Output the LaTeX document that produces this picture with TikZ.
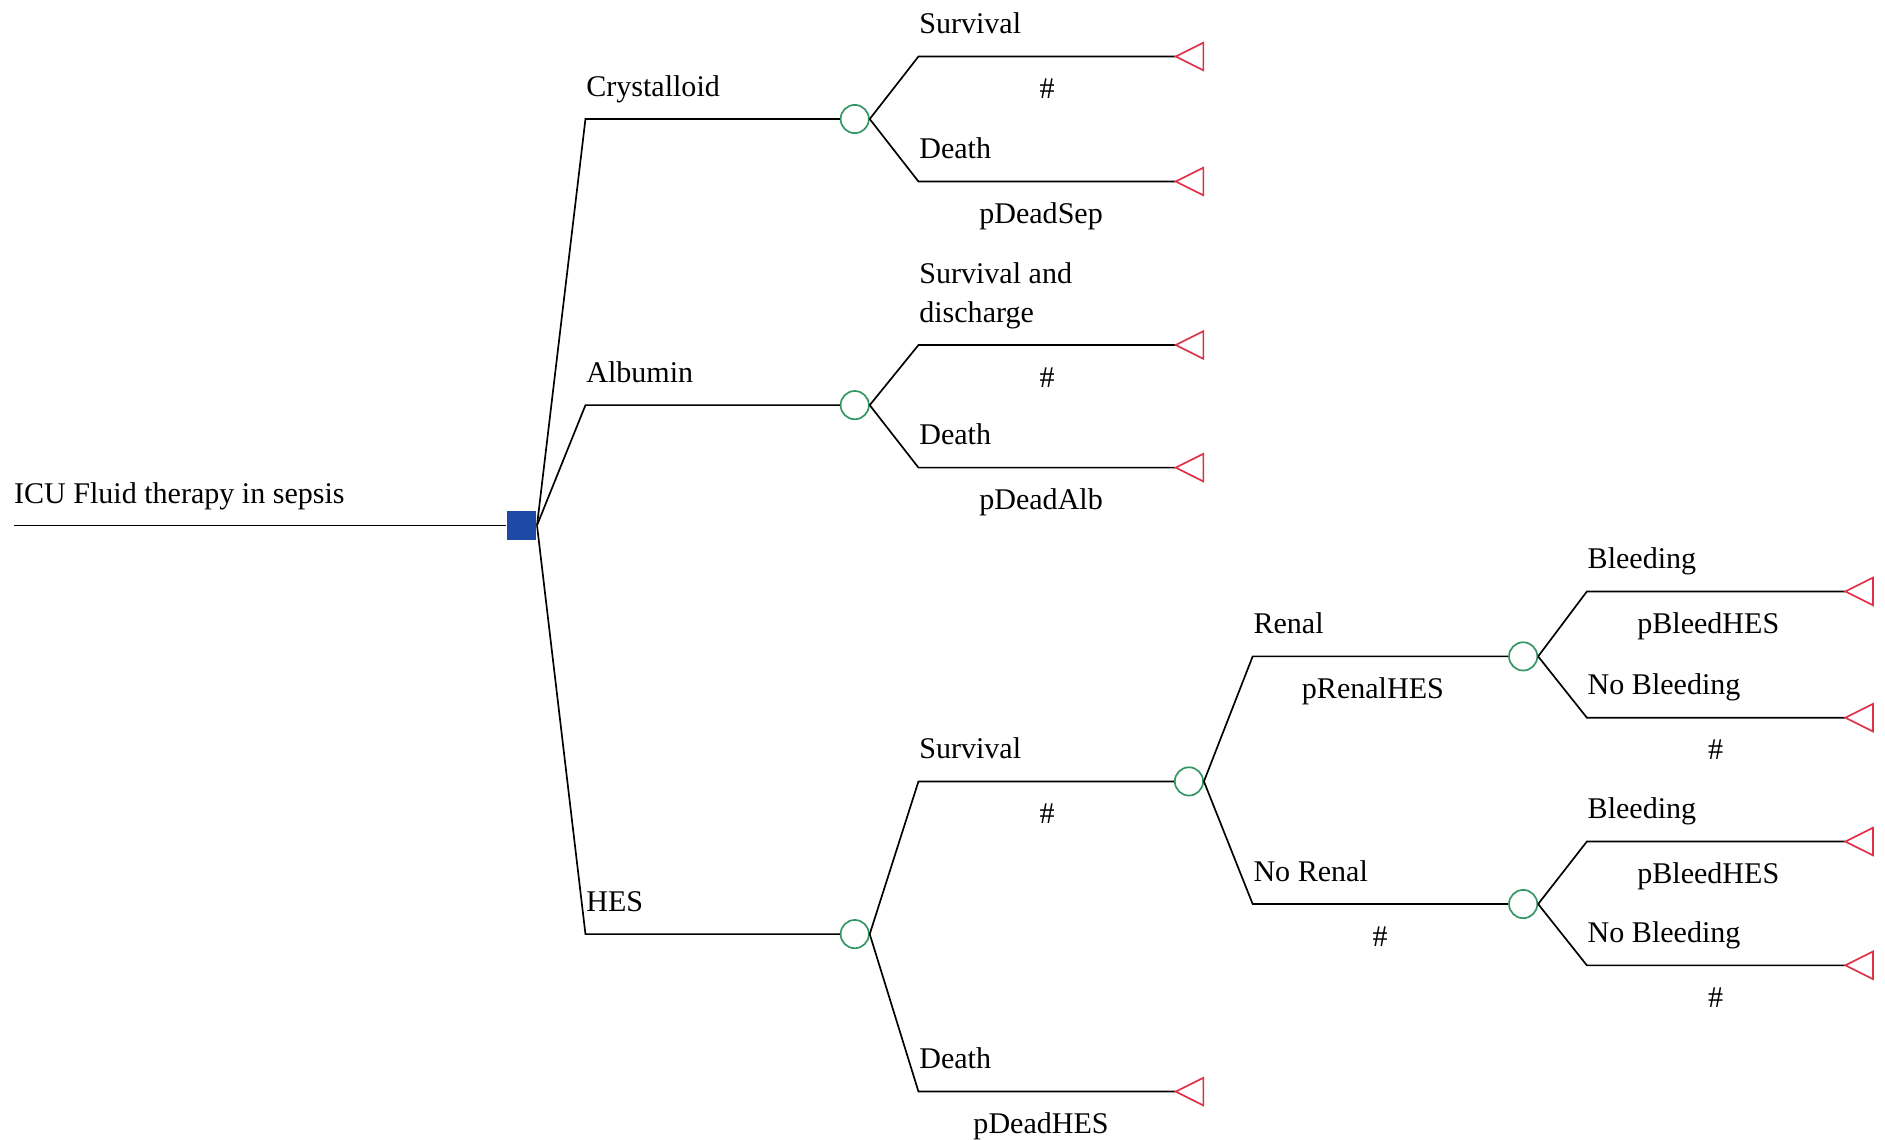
\documentclass[tikz,border=0pt]{standalone}
\usepackage{fontspec}
\setmainfont{Liberation Serif}
\definecolor{decblue}{RGB}{30,74,166}
\definecolor{chgreen}{RGB}{52,150,100}
\definecolor{termred}{RGB}{222,48,72}
\begin{document}
\begin{tikzpicture}[x=0.5pt,y=-0.5pt,line width=0.7pt,
  every node/.style={font=\fontsize{12.5}{16}\selectfont},
  decision/.style={rectangle,fill=decblue,minimum size=12pt,inner sep=0pt},
  chance/.style={circle,draw=chgreen,fill=white,minimum size=11.75pt,inner sep=0pt},
  branch/.style={draw=black},
  term/.style={draw=termred,line join=miter},
  toplabel/.style={anchor=base west,inner sep=0pt,align=left},
  botlabel/.style={anchor=base,inner sep=0pt}]
\useasboundingbox (0,0) rectangle (1568,948);

% root and decision node
\coordinate (root) at (12,437);
\node[decision] (d) at (434,437) {};
\draw[branch] (root) -- (d.west);
\node[toplabel] (lroot) at (11,419) {ICU Fluid therapy in sepsis};

% treatment arms
\node[chance] (c1) at (711,99) {};
\node[chance] (c2) at (711,337) {};
\node[chance] (c3) at (711,777) {};
\coordinate (k1) at (487,99);
\coordinate (k2) at (487,337);
\coordinate (k3) at (487,777);
\draw[branch] (d.east) -- (k1) -- (c1.west);
\draw[branch] (d.east) -- (k2) -- (c2.west);
\draw[branch] (d.east) -- (k3) -- (c3.west);
\node[toplabel] (l1) at (487,80.5) {Crystalloid};
\node[toplabel] (l2) at (487,318.5) {Albumin};
\node[toplabel] (l3) at (487,758.5) {HES};

% Crystalloid outcomes
\coordinate (e11) at (764,47);  \coordinate (t11) at (978,47);
\coordinate (e12) at (764,151); \coordinate (t12) at (978,151);
\draw[branch] (c1.east) -- (e11) -- (t11);
\draw[branch] (c1.east) -- (e12) -- (t12);
\node[toplabel] at (764,28) {Survival};
\node[botlabel] at (871,82) {\#};
\node[toplabel] at (764,132) {Death};
\node[botlabel] at (866,186) {pDeadSep};

% Albumin outcomes
\coordinate (e21) at (764,287); \coordinate (t21) at (978,287);
\coordinate (e22) at (764,389); \coordinate (t22) at (978,389);
\draw[branch] (c2.east) -- (e21) -- (t21);
\draw[branch] (c2.east) -- (e22) -- (t22);
\node[toplabel] at (764,268) {Survival and\\discharge};
\node[botlabel] at (871,322) {\#};
\node[toplabel] at (764,370) {Death};
\node[botlabel] at (866,424) {pDeadAlb};

% HES outcomes
\node[chance] (c4) at (989,650) {};
\coordinate (e31) at (764,650);
\coordinate (e32) at (764,908); \coordinate (t32) at (978,908);
\draw[branch] (c3.east) -- (e31) -- (c4.west);
\draw[branch] (c3.east) -- (e32) -- (t32);
\node[toplabel] at (764,631) {Survival};
\node[botlabel] at (871,685) {\#};
\node[toplabel] at (764,889) {Death};
\node[botlabel] at (866,943) {pDeadHES};

% renal events after HES survival
\node[chance] (c5) at (1267,546) {};
\node[chance] (c6) at (1267,752) {};
\coordinate (e41) at (1042,546);
\coordinate (e42) at (1042,752);
\draw[branch] (c4.east) -- (e41) -- (c5.west);
\draw[branch] (c4.east) -- (e42) -- (c6.west);
\node[toplabel] at (1042,527) {Renal};
\node[botlabel] at (1142,581) {pRenalHES};
\node[toplabel] at (1042,733) {No Renal};
\node[botlabel] at (1148,787) {\#};

% bleeding events
\coordinate (e51) at (1320,492); \coordinate (t51) at (1535,492);
\coordinate (e52) at (1320,597); \coordinate (t52) at (1535,597);
\coordinate (e61) at (1320,700); \coordinate (t61) at (1535,700);
\coordinate (e62) at (1320,803); \coordinate (t62) at (1535,803);
\draw[branch] (c5.east) -- (e51) -- (t51);
\draw[branch] (c5.east) -- (e52) -- (t52);
\draw[branch] (c6.east) -- (e61) -- (t61);
\draw[branch] (c6.east) -- (e62) -- (t62);
\node[toplabel] at (1320,473) {Bleeding};
\node[botlabel] at (1421,527) {pBleedHES};
\node[toplabel] at (1320,578) {No Bleeding};
\node[botlabel] at (1427,632) {\#};
\node[toplabel] at (1320,681) {Bleeding};
\node[botlabel] at (1421,735) {pBleedHES};
\node[toplabel] at (1320,784) {No Bleeding};
\node[botlabel] at (1427,838) {\#};

% terminal nodes
\foreach \t in {t11,t12,t21,t22,t32,t51,t52,t61,t62}
  \draw[term] (\t) -- ++(23,-11.5) -- ++(0,23) -- cycle;
\end{tikzpicture}
\end{document}
